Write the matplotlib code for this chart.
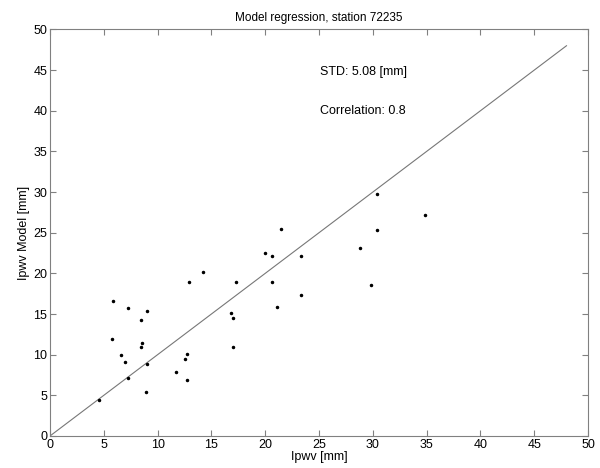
import numpy as np
import matplotlib
matplotlib.use('Agg')
import matplotlib.pyplot as plt

plt.rcParams['font.family'] = ['Liberation Sans', 'DejaVu Sans']

# измерения (x) и модель (y), мм
ipwv = [4.58, 5.85, 5.76, 6.63, 7.0, 7.22, 7.22, 8.49, 8.52, 8.43, 8.98, 8.98,
        8.95, 11.74, 12.73, 12.58, 12.73, 12.95, 14.22, 17.26, 16.79, 17.0,
        17.0, 19.95, 20.66, 21.5, 20.66, 21.07, 23.3, 23.3, 28.84, 30.39,
        34.88, 30.39, 29.86]
ipwv_model = [4.47, 16.64, 11.97, 9.92, 9.1, 15.7, 7.13, 14.27, 11.4, 10.99,
              15.33, 8.9, 5.45, 7.84, 10.09, 9.51, 6.89, 18.98, 20.13, 18.98,
              15.09, 14.51, 10.95, 22.47, 22.1, 25.46, 18.98, 15.9, 22.18,
              17.34, 23.16, 29.77, 27.18, 25.3, 18.57]
line_end = 48
std_mm = 5.08
corr = 0.8

fig = plt.figure(figsize=(6, 4.68), dpi=100)
ax = fig.add_axes([0.0833, 0.0684, 0.8967, 0.8686])

ax.plot([0, line_end], [0, line_end], color='#777777', linewidth=0.8)
ax.plot(ipwv, ipwv_model, linestyle='none', marker='.', color='black', markersize=3)

ax.text(25.1, 44.8, f'STD: {std_mm:.2f} [mm]', fontsize=9, va='center')
ax.text(25.1, 40.0, f'Correlation: {corr}', fontsize=9, va='center')

ax.set_xlim(0, 50)
ax.set_ylim(0, 50)
ax.set_xticks(np.arange(0, 51, 5))
ax.set_yticks(np.arange(0, 51, 5))
ax.tick_params(direction='in', top=True, right=True, labelsize=9,
               color='#808080', length=4, pad=2)
for s in ax.spines.values():
    s.set_color('#808080')

ax.set_title('Model regression, station 72235', fontsize=8.5, pad=6)
ax.set_xlabel('Ipwv [mm]', fontsize=9, labelpad=0)
ax.set_ylabel('Ipwv Model [mm]', fontsize=9, labelpad=2)

fig.savefig('out.png', dpi=100)
